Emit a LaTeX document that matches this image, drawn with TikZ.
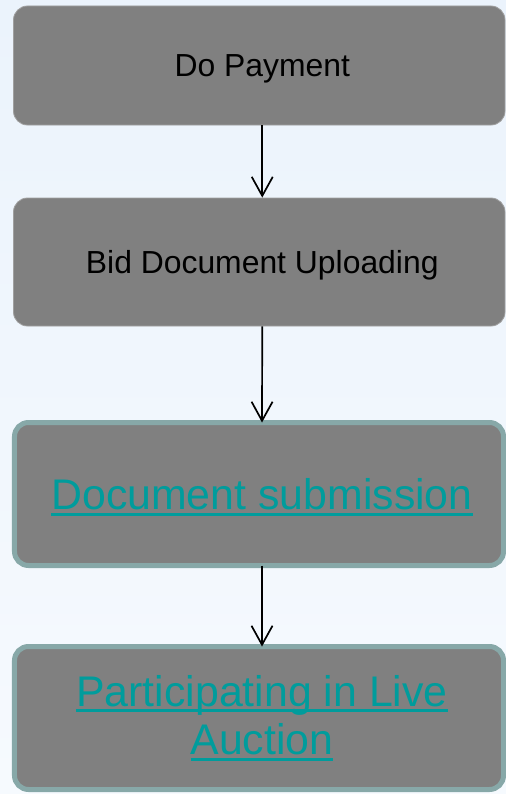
\documentclass[tikz,border=0pt]{standalone}
\usepackage{fontspec}
\setmainfont{Liberation Sans}
\usetikzlibrary{arrows.meta}
\definecolor{bgtop}{RGB}{235,243,252}
\definecolor{bgbot}{RGB}{246,250,254}
\definecolor{boxfill}{RGB}{128,128,128}
\definecolor{thinedge}{RGB}{160,160,160}
\definecolor{tealedge}{RGB}{135,168,168}
\definecolor{linkteal}{RGB}{0,156,156}
\newcommand\myul[1]{\setbox0\hbox{#1}\rlap{\rule[-6bp]{\wd0}{3bp}}\box0}
\newcommand\mytxtshift{\hspace*{6bp}}
\tikzset{
  plainbox/.style={draw=thinedge, line width=0.8bp, fill=boxfill, rounded corners=14bp,
    minimum width=491.5bp, inner sep=0pt, text=black, text depth=0pt,
    font=\fontsize{32}{36}\selectfont},
  linkbox/.style={draw=tealedge, line width=5bp, fill=boxfill, rounded corners=14bp,
    minimum width=489bp, minimum height=143bp, inner sep=0pt, text=linkteal,
    font=\fontsize{43}{49}\selectfont, align=center},
  flow/.style={draw=black, line width=1.7bp, -{Straight Barb[length=19bp,width=21bp,line width=1.7bp]}}
}
\begin{document}
\begin{tikzpicture}[x=1bp,y=-1bp]
\useasboundingbox (0,0) rectangle (506,794);
\shade[top color=bgtop, bottom color=bgbot] (0,0) rectangle (506,794);
\node[plainbox, minimum height=119bp] (b1) at (259.25,65.5) {\mytxtshift Do Payment};
\node[plainbox, minimum height=128bp] (b2) at (259.25,262) {\mytxtshift Bid Document Uploading};
\node[linkbox, text depth=0pt] (b3) at (259,494) {\mytxtshift\myul{Document submission}};
\node[linkbox] (b4) at (259,718) {\mytxtshift\myul{Participating in Live}\\\mytxtshift\myul{Auction}};
\draw[flow] ([xshift=3bp]b1.south) -- ([xshift=3bp]b2.north);
\draw[flow] ([xshift=3bp]b2.south) -- ([xshift=3bp,yshift=-2.5bp]b3.north);
\draw[flow] ([xshift=3bp,yshift=2.5bp]b3.south) -- ([xshift=3bp,yshift=-2.5bp]b4.north);
\end{tikzpicture}
\end{document}
